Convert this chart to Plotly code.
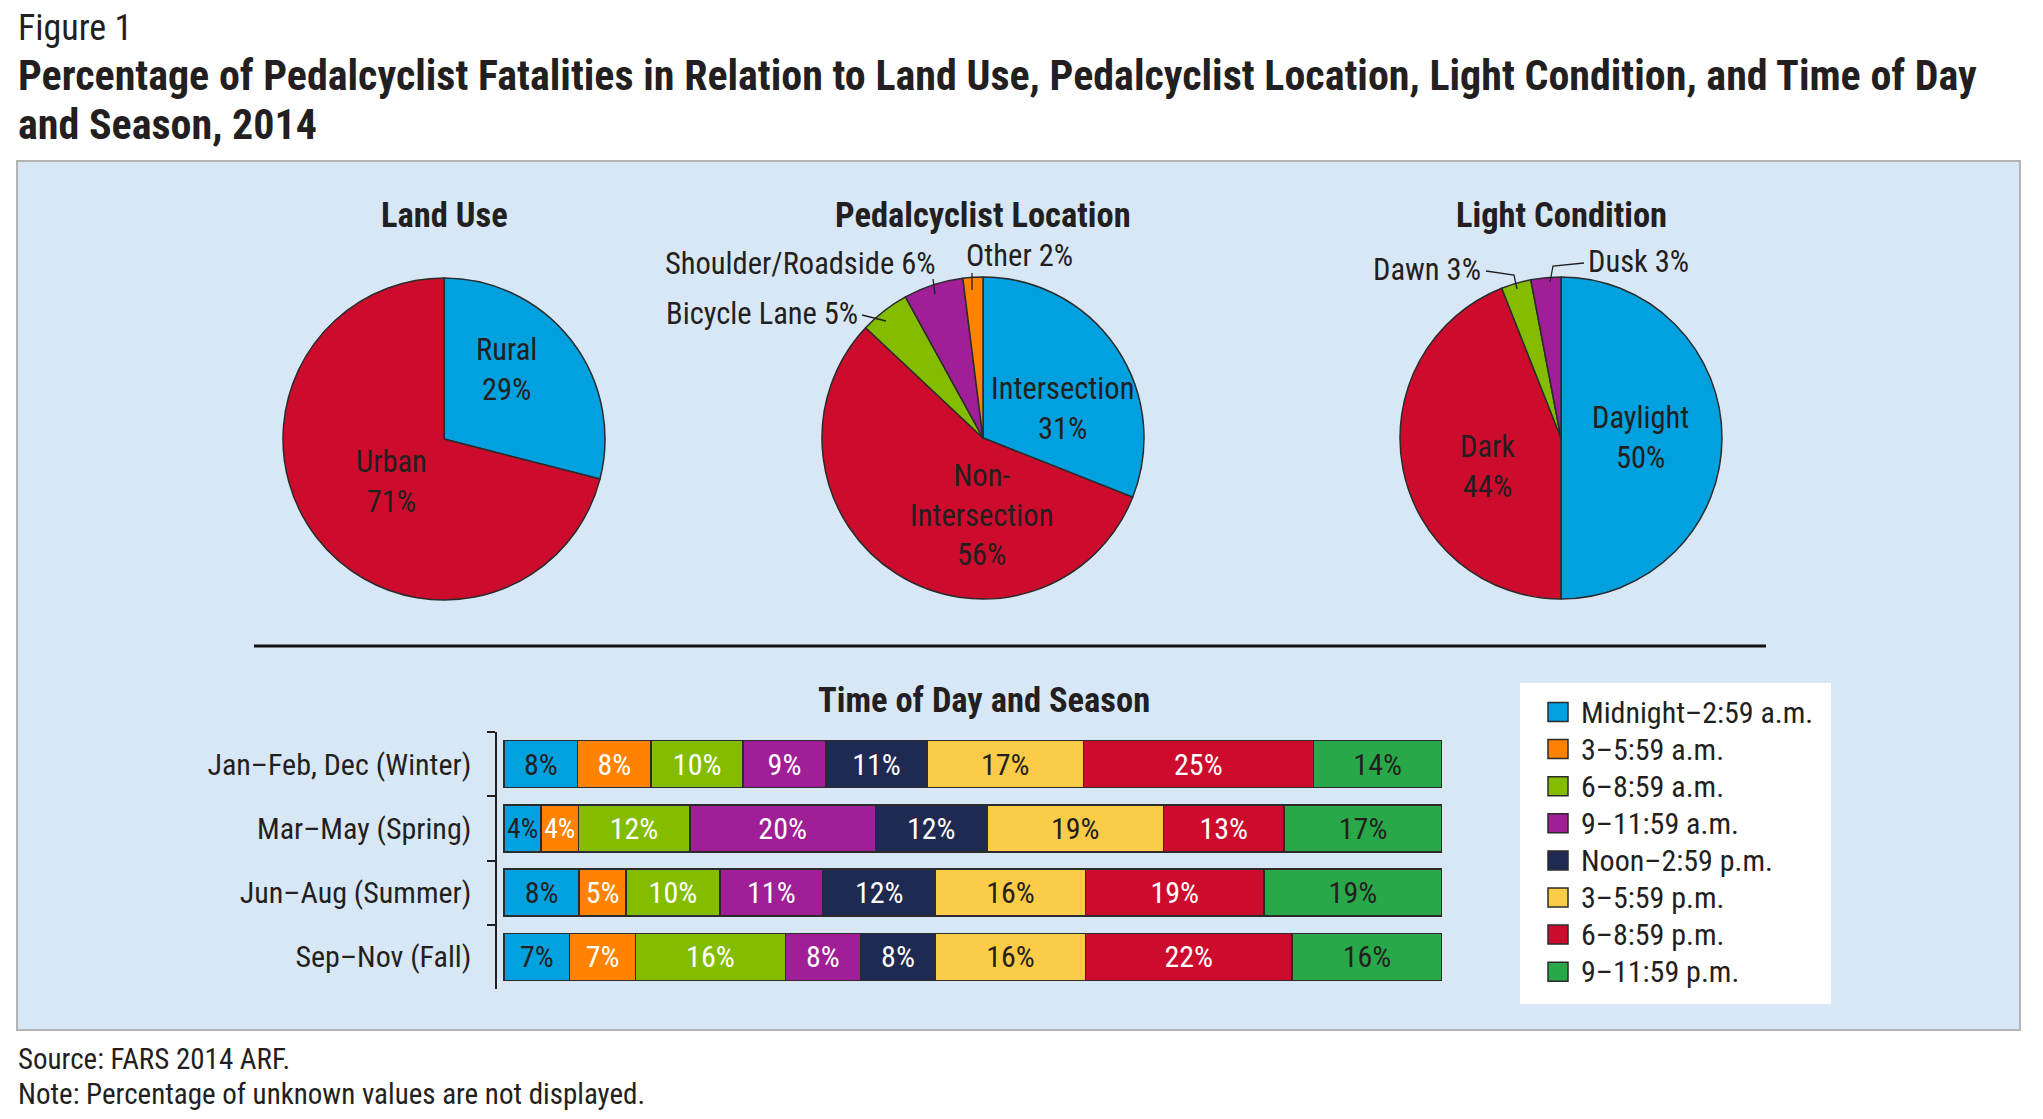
import plotly.graph_objects as go

W, H = 2043, 1119
FONT = "Liberation Sans Narrow, Arial Narrow, Roboto Condensed, Liberation Sans, sans-serif"
INK = "#231f20"
EDGE = "#2b2b2b"

# pie data
land_labels = ["Rural", "Urban"]
land_values = [29, 71]
location_labels = ["Intersection", "Non-Intersection", "Bicycle Lane", "Shoulder/Roadside", "Other"]
location_values = [31, 56, 5, 6, 2]
light_labels = ["Daylight", "Dark", "Dawn", "Dusk"]
light_values = [50, 44, 3, 3]

# stacked bars (percent labels as printed, rows normalised by plotly)
seasons = ["Jan\u2013Feb, Dec (Winter)", "Mar\u2013May (Spring)", "Jun\u2013Aug (Summer)", "Sep\u2013Nov (Fall)"]
periods = ["Midnight\u20132:59 a.m.", "3\u20135:59 a.m.", "6\u20138:59 a.m.", "9\u201311:59 a.m.",
           "Noon\u20132:59 p.m.", "3\u20135:59 p.m.", "6\u20138:59 p.m.", "9\u201311:59 p.m."]
winter = [8, 8, 10, 9, 11, 17, 25, 14]
spring = [4, 4, 12, 20, 12, 19, 13, 17]
summer = [8, 5, 10, 11, 12, 16, 19, 19]
fall = [7, 7, 16, 8, 8, 16, 22, 16]

BLUE, ORANGE, LIME, PURPLE = "#00a1de", "#ff8200", "#84bd00", "#a01e96"
NAVY, YELLOW, RED, GREEN = "#1f2a52", "#fccb47", "#cd0c2d", "#29a84a"
period_colors = [BLUE, ORANGE, LIME, PURPLE, NAVY, YELLOW, RED, GREEN]
period_text = [INK, "white", "white", "white", "white", INK, "white", INK]


def px(x):
    return x / W


def py(y):
    return 1 - y / H


def pie_domain(cx, cy, r=161):
    return dict(x=[px(cx - r), px(cx + r)], y=[py(cy + r), py(cy - r)])


fig = go.Figure()

pies = [
    (land_labels, land_values, [BLUE, RED], (444, 439)),
    (location_labels, location_values, [BLUE, RED, LIME, PURPLE, ORANGE], (983, 438)),
    (light_labels, light_values, [BLUE, RED, LIME, PURPLE], (1561, 438)),
]
for labels, values, colors, (cx, cy) in pies:
    fig.add_trace(go.Pie(
        labels=labels, values=values, sort=False, direction="clockwise", rotation=0,
        marker=dict(colors=colors, line=dict(color=EDGE, width=1.5)),
        textinfo="none", showlegend=False, domain=pie_domain(cx, cy),
    ))

rows = [winter, spring, summer, fall]
for i, name in enumerate(periods):
    vals = [r[i] for r in rows]
    fig.add_trace(go.Bar(
        y=seasons, x=vals, text=vals, texttemplate="%{text}%", name=name,
        orientation="h", textposition="inside", insidetextanchor="middle", textangle=0,
        textfont=dict(family=FONT, size=30, color=period_text[i]),
        marker=dict(color=period_colors[i], line=dict(color=EDGE, width=1.5)),
        showlegend=False, xaxis="x", yaxis="y",
    ))

ann = []


def txt(x, y, s, size, xanchor="center", bold=False, align="center"):
    if bold:
        s = "<b>" + s + "</b>"
    ann.append(dict(x=px(x), y=py(y), xref="paper", yref="paper", text=s, showarrow=False,
                    xanchor=xanchor, yanchor="middle", align=align,
                    font=dict(family=FONT, size=size, color=INK)))


txt(16, 28, "Figure 1", 36, xanchor="left")
txt(16, 76, "Percentage of Pedalcyclist Fatalities in Relation to Land Use, Pedalcyclist Location, "
    "Light Condition, and Time of Day", 42, xanchor="left", bold=True)
txt(16, 124, "and Season, 2014", 42, xanchor="left", bold=True)
txt(444, 215, "Land Use", 34.5, bold=True)
txt(983, 215, "Pedalcyclist Location", 34.5, bold=True)
txt(1561, 215, "Light Condition", 34.5, bold=True)
txt(984, 700, "Time of Day and Season", 34.5, bold=True)
txt(16, 1059, "Source: FARS 2014 ARF.", 29, xanchor="left")
txt(16, 1094, "Note: Percentage of unknown values are not displayed.", 29, xanchor="left")

# slice labels
inside_pos = {"Rural": (506, 370), "Urban": (391, 482), "Intersection": (1062, 408),
              "Non-Intersection": (981, 515), "Daylight": (1640, 437), "Dark": (1487, 466)}
outside_pos = {"Bicycle Lane": (860, 313, "right"), "Shoulder/Roadside": (938, 263, "right"),
               "Other": (964, 255, "left"), "Dawn": (1483, 270, "right"), "Dusk": (1586, 262, "left")}
for labels, values, _, _ in pies:
    for lab, v in zip(labels, values):
        if lab in inside_pos:
            x, y = inside_pos[lab]
            txt(x, y, lab.replace("Non-", "Non-<br>") + "<br>" + f"{v}%", 30.5)
        else:
            x, y, anchor = outside_pos[lab]
            txt(x, y, f"{lab} {v}%", 30.5, xanchor=anchor)

leaders = [
    [(862, 315), (886, 321)],
    [(933, 279), (935, 294)],
    [(972, 273), (972, 290)],
    [(1486, 271), (1514, 275), (1517, 289)],
    [(1584, 263), (1553, 266), (1550, 282)],
]

shapes = [
    dict(type="rect", xref="paper", yref="paper", x0=px(17), x1=px(2020), y0=py(1030), y1=py(161),
         fillcolor="#d8e7f5", line=dict(color="#b4b4b4", width=2), layer="below"),
    dict(type="line", xref="paper", yref="paper", x0=px(254), x1=px(1766), y0=py(646), y1=py(646),
         line=dict(color="#111111", width=3)),
    dict(type="rect", xref="paper", yref="paper", x0=px(1520), x1=px(1831), y0=py(1004), y1=py(683),
         fillcolor="white", line=dict(width=0), layer="below"),
]
for pts in leaders:
    path = "M" + " L".join(f"{px(a):.5f},{py(b):.5f}" for a, b in pts)
    shapes.append(dict(type="path", xref="paper", yref="paper", path=path,
                       line=dict(color=INK, width=1.3)))

# legend
for i, name in enumerate(periods):
    yc = 712 + 37.1 * i
    shapes.append(dict(type="rect", xref="paper", yref="paper", x0=px(1548), x1=px(1568),
                       y0=py(yc + 9.5), y1=py(yc - 9.5), fillcolor=period_colors[i],
                       line=dict(color=EDGE, width=1.5)))
    txt(1579, yc, name, 30, xanchor="left")

fig.update_layout(
    width=W, height=H, margin=dict(l=0, r=0, t=0, b=0),
    paper_bgcolor="white", plot_bgcolor="rgba(0,0,0,0)",
    barmode="stack", barnorm="percent", bargap=0.27,
    font=dict(family=FONT, color=INK),
    xaxis=dict(domain=[px(497), px(1442)], range=[-0.75, 100], visible=False, fixedrange=True),
    yaxis=dict(domain=[py(989), py(732)], autorange="reversed", showline=True, linecolor=INK,
               linewidth=1.5, ticks="outside", tickson="boundaries", ticklen=8, tickcolor=INK,
               tickwidth=1.5, ticklabelstandoff=18, showgrid=False, zeroline=False,
               tickfont=dict(family=FONT, size=30, color=INK)),
    annotations=ann, shapes=shapes,
)

fig.write_html("out.html", config={"displayModeBar": False},
               post_script="document.body.style.margin='0';")
